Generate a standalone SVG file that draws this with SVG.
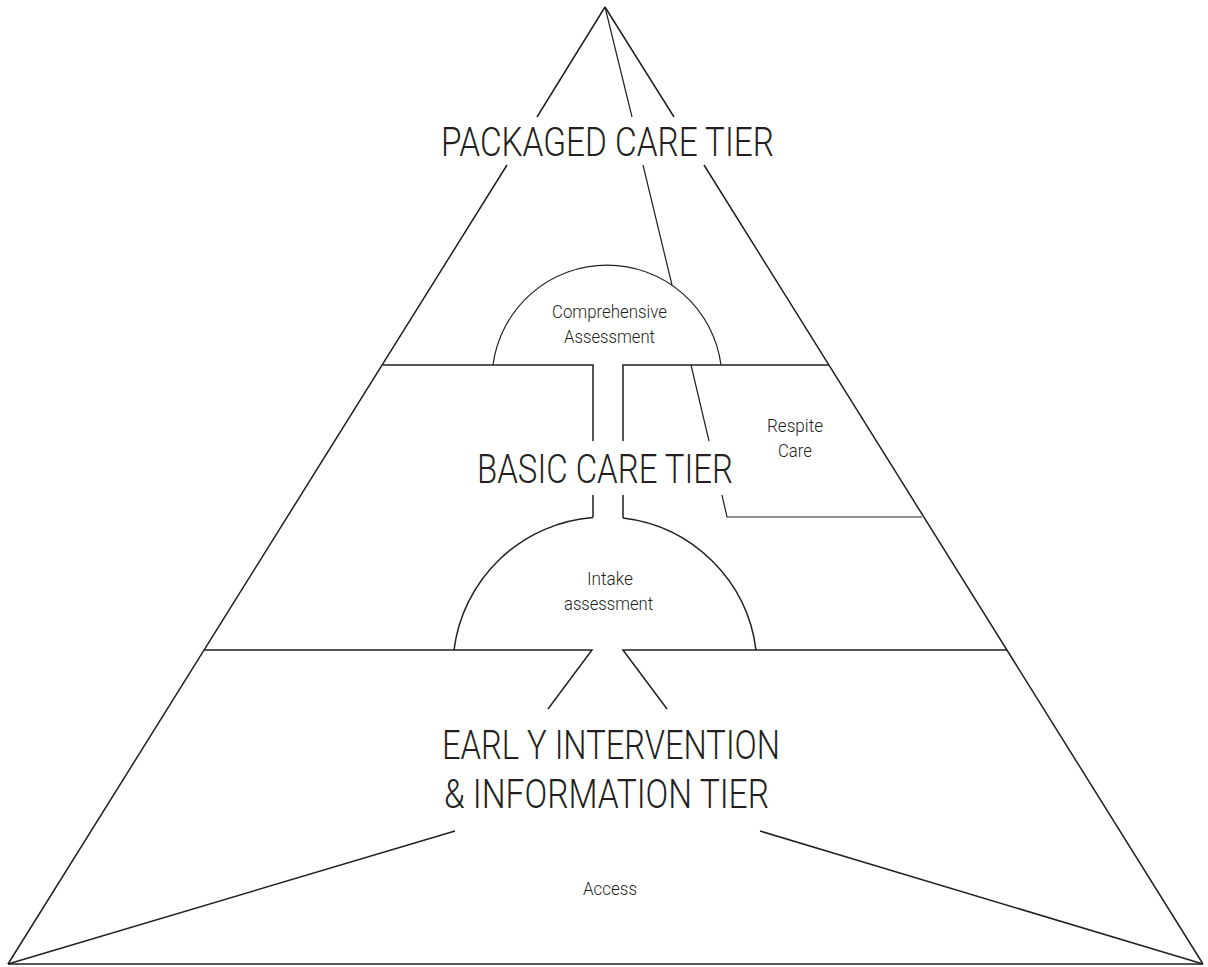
<svg xmlns="http://www.w3.org/2000/svg" width="1208" height="967" viewBox="0 0 1208 967">
<style>
.ln{fill:none;stroke:#231f20;stroke-width:1.5;stroke-linejoin:miter}
.thin{fill:none;stroke:#231f20;stroke-width:1.2}
.big{font-family:Roboto,"Liberation Sans",sans-serif;font-weight:300;font-size:40px;fill:#231f20}
.small{font-family:Roboto,"Liberation Sans",sans-serif;font-weight:300;font-size:18px;fill:#231f20}
</style>
<rect x="0" y="0" width="1208" height="967" fill="#ffffff"/>
<g id="connectors">
<path class="ln" d="M605,7 L537,117 M507,165 L8,964"/>
<path class="ln" d="M605,7 L674,117 M704,165 L1203,964"/>
<path class="ln" d="M8,964 L1203,964"/>
<path class="thin" d="M605,7 L632,117 M643,165 L672,285"/>
<path class="thin" d="M691,365 L709,441 M722,495 L727,517 L922,517"/>
<path class="ln" d="M383,365 L593,365 L593,441 M593,495 L593,517.5"/>
<path class="ln" d="M829,365 L623,365 L623,441 M623,495 L623,518"/>
<path class="ln" d="M204,650 L592,650 L548,709"/>
<path class="ln" d="M1007,650 L623,650 L667,709"/>
<path class="ln" d="M455,831 L8,964 M760,831 L1203,964"/>
</g>
<g id="packaged-care-tier">
<text class="big" x="441" y="156" textLength="333" lengthAdjust="spacingAndGlyphs">PACKAGED CARE TIER</text>
</g>
<g id="comprehensive-assessment">
<path class="thin" d="M493,365 A115,115 0 0 1 721,365"/>
<text class="small" x="552" y="318" textLength="115" lengthAdjust="spacingAndGlyphs">Comprehensive</text>
<text class="small" x="564" y="343" textLength="91" lengthAdjust="spacingAndGlyphs">Assessment</text>
</g>
<g id="basic-care-tier">
<text class="big" x="477" y="483" textLength="256" lengthAdjust="spacingAndGlyphs">BASIC CARE TIER</text>
</g>
<g id="respite-care">
<text class="small" x="767" y="432" textLength="56" lengthAdjust="spacingAndGlyphs">Respite</text>
<text class="small" x="778" y="457" textLength="34" lengthAdjust="spacingAndGlyphs">Care</text>
</g>
<g id="intake-assessment">
<path class="ln" d="M454,650 A152,152 0 0 1 593,517.5 M623,518 A152,152 0 0 1 756,650"/>
<text class="small" x="587" y="585" textLength="46" lengthAdjust="spacingAndGlyphs">Intake</text>
<text class="small" x="564" y="610" textLength="89" lengthAdjust="spacingAndGlyphs">assessment</text>
</g>
<g id="early-intervention-tier">
<text class="big" x="442" y="759" textLength="338" lengthAdjust="spacingAndGlyphs">EARL Y INTERVENTION</text>
<text class="big" x="444" y="808" textLength="325" lengthAdjust="spacingAndGlyphs">&amp; INFORMATION TIER</text>
</g>
<g id="access">
<text class="small" x="583" y="895" textLength="54" lengthAdjust="spacingAndGlyphs">Access</text>
</g>
</svg>
